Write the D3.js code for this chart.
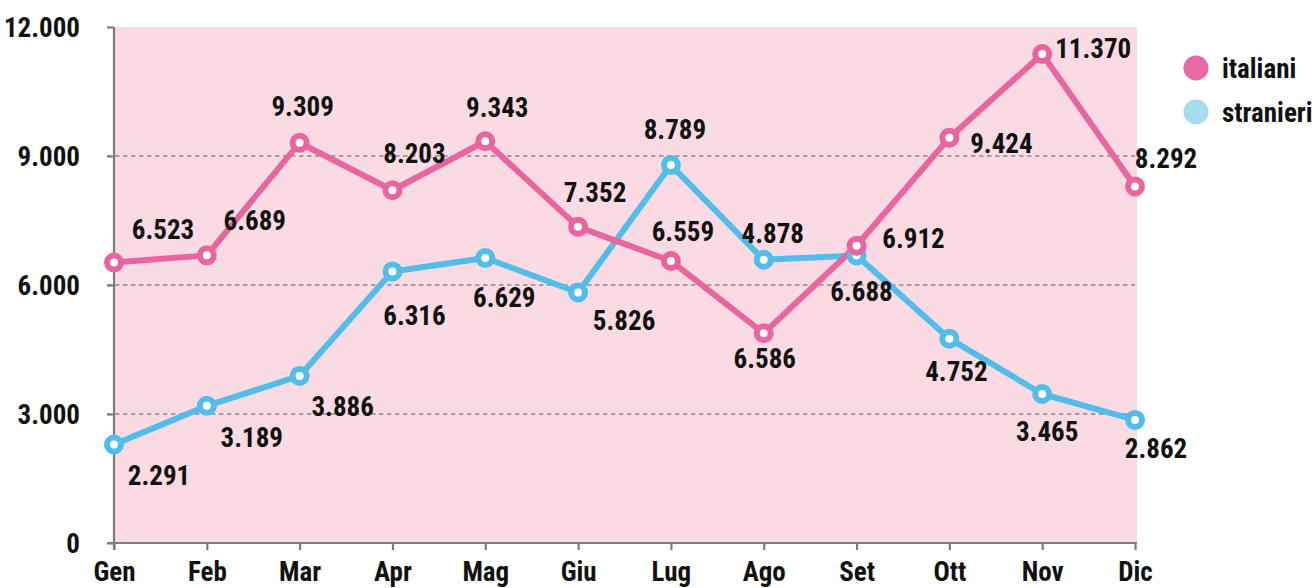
<!DOCTYPE html>
<html>
<head>
<meta charset="utf-8">
<script src="https://cdn.jsdelivr.net/npm/d3@7"></script>
<style>
  html, body { margin: 0; padding: 0; background: #ffffff; }
  svg { display: block; }
  text { font-family: "Liberation Sans Narrow", "Roboto Condensed", "DejaVu Sans Condensed", "Liberation Sans", sans-serif; font-weight: bold; fill: #111; }
</style>
</head>
<body>
<svg id="chart" width="1315" height="588"></svg>
<script>
// ---- data ----
const months = ["Gen","Feb","Mar","Apr","Mag","Giu","Lug","Ago","Set","Ott","Nov","Dic"];
const italiani = [6523, 6689, 9309, 8203, 9343, 7352, 6559, 4878, 6912, 9424, 11370, 8292];
const stranieri = [2291, 3189, 3886, 6316, 6629, 5826, 8789, 6586, 6688, 4752, 3465, 2862];
// value labels as printed in the source picture
const italianiLabels = ["6.523","6.689","9.309","8.203","9.343","7.352","6.559","6.586","6.912","9.424","11.370","8.292"];
const stranieriLabels = ["2.291","3.189","3.886","6.316","6.629","5.826","8.789","4.878","6.688","4.752","3.465","2.862"];
const yTicks = [0, 3000, 6000, 9000, 12000];
const yTickLabels = ["0","3.000","6.000","9.000","12.000"];
const seriesNames = ["italiani","stranieri"];

// ---- layout (label offsets relative to each point, px) ----
const italianiLabelOffsets = [[49,-33],[48,-35],[3,-36],[22,-37],[12,-34],[17,-35],[12,-30],[1,25],[57,-8],[52,6],[51,-6],[31,-28]];
const stranieriLabelOffsets = [[45,31],[45,31],[43,30],[22,44],[19,39],[46,28],[4,-36],[9,-27],[5,36],[7,33],[5,37],[21,28]];

const colors = { italiani: "#e8659f", stranieri: "#52bde8" };
const legendColors = { italiani: "#e868a8", stranieri: "#a6dcef" };

const svg = d3.select("#chart");
const pLeft = 114, pRight = 1135, pTop = 27, pBottom = 543;

const x = d3.scalePoint().domain(months).range([pLeft, pRight]);
const y = d3.scaleLinear().domain([0, 12000]).range([pBottom, pTop]);

// background
svg.append("rect").attr("x", pLeft).attr("y", pTop)
  .attr("width", pRight + 2 - pLeft).attr("height", pBottom - pTop)
  .attr("fill", "#fadbe3");

// grid lines
svg.append("g").selectAll("line").data(yTicks.filter(d => d > 0 && d < 12000)).join("line")
  .attr("x1", pLeft - 7).attr("x2", pRight)
  .attr("y1", d => y(d)).attr("y2", d => y(d))
  .attr("stroke", "#8a8a8a").attr("stroke-width", 1.6).attr("stroke-dasharray", "4.5,3.5");

// axes
const yAxis = d3.axisLeft(y).tickValues(yTicks)
  .tickFormat((d, i) => yTickLabels[i]).tickSize(7).tickPadding(27);
const gy = svg.append("g").attr("transform", `translate(${pLeft},0)`).call(yAxis);
gy.select(".domain").attr("stroke", "#7d7d7d").attr("stroke-width", 2.2)
  .attr("d", `M0,${pTop}V${pBottom + 7}`);
gy.selectAll(".tick line").attr("stroke", "#7d7d7d").attr("stroke-width", 2.2);
gy.selectAll(".tick text").attr("font-size", 27).attr("dy", "0.36em").attr("fill", "#111");

const xAxis = d3.axisBottom(x).tickSize(7).tickPadding(10);
const gx = svg.append("g").attr("transform", `translate(0,${pBottom})`).call(xAxis);
gx.select(".domain").attr("stroke", "#7d7d7d").attr("stroke-width", 2.2)
  .attr("d", `M${pLeft - 7},0H${pRight + 2}`);
gx.selectAll(".tick line").attr("stroke", "#7d7d7d").attr("stroke-width", 2.2);
gx.selectAll(".tick text").attr("font-size", 27).attr("dy", "0.78em").attr("fill", "#111");
gy.attr("font-family", null).attr("font-size", null);
gx.attr("font-family", null).attr("font-size", null);

const line = d3.line().x((d, i) => x(months[i])).y(d => y(d));

const series = [
  { name: "stranieri", values: stranieri, labels: stranieriLabels, offs: stranieriLabelOffsets },
  { name: "italiani", values: italiani, labels: italianiLabels, offs: italianiLabelOffsets }
];

series.forEach(s => {
  svg.append("path").datum(s.values).attr("d", line)
    .attr("fill", "none").attr("stroke", colors[s.name]).attr("stroke-width", 6)
    .attr("stroke-linejoin", "round");
});
series.forEach(s => {
  svg.append("g").selectAll("circle").data(s.values).join("circle")
    .attr("cx", (d, i) => x(months[i])).attr("cy", d => y(d))
    .attr("r", 7).attr("fill", "#fff")
    .attr("stroke", colors[s.name]).attr("stroke-width", 6);
});
series.forEach(s => {
  svg.append("g").selectAll("text").data(s.values).join("text")
    .attr("x", (d, i) => x(months[i]) + s.offs[i][0])
    .attr("y", (d, i) => y(d) + s.offs[i][1])
    .attr("dy", "0.36em").attr("text-anchor", "middle")
    .attr("font-size", 27)
    .text((d, i) => s.labels[i]);
});

// legend
const lg = svg.append("g");
seriesNames.forEach((n, i) => {
  lg.append("circle").attr("cx", 1196).attr("cy", 68 + i * 44).attr("r", 12.5).attr("fill", legendColors[n]);
  lg.append("text").attr("x", 1222).attr("y", 68 + i * 44).attr("dy", "0.36em")
    .attr("font-size", 27).text(n);
});
</script>
</body>
</html>
